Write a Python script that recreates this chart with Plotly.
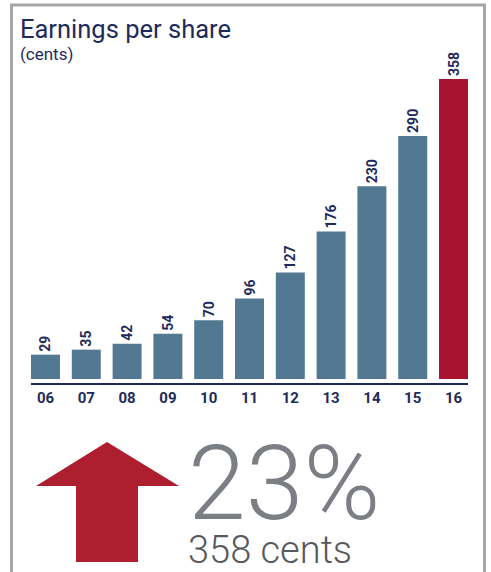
import plotly.graph_objects as go

years = ["06", "07", "08", "09", "10", "11", "12", "13", "14", "15", "16"]
eps = [29, 35, 42, 54, 70, 96, 127, 176, 230, 290, 358]
bar_colors = ["#527991"] * 10 + ["#a8132f"]
growth_text = "23%"
latest_text = "358 cents"

W, H = 491, 572
L, R, T, B = 31, 468, 44, 383  # plot area in pixels

def px(x):
    return (x - L) / (R - L)

def py(y):
    return (B - y) / (B - T)

NAVY = "#1e2b5a"
FONT = "Roboto"

fig = go.Figure()
fig.add_trace(go.Bar(
    x=list(range(len(years))), y=eps,
    marker=dict(color=bar_colors, line=dict(width=0)),
    text=[str(v) for v in eps], textposition="outside", textangle=-90,
    textfont=dict(family=FONT, size=14, color=NAVY, weight="bold"),
    cliponaxis=False, hoverinfo="skip",
))

frame = (f"M {px(11.5)} {py(574)} L {px(11.5)} {py(5)} "
         f"L {px(484.5)} {py(5)} L {px(484.5)} {py(574)}")
arrow = (f"M {px(107)} {py(442)} L {px(179)} {py(486)} L {px(138)} {py(486)} "
         f"L {px(138)} {py(562)} L {px(76)} {py(562)} L {px(76)} {py(486)} "
         f"L {px(36)} {py(486)} Z")

big = (f"<span style='font-size:104px;color:#7b7e83'>{growth_text}</span>"
       f"<br><span style='font-size:38px'>{latest_text}</span>")

fig.update_layout(
    width=W, height=H,
    margin=dict(l=L, r=W - R, t=T, b=H - B, pad=0),
    paper_bgcolor="white", plot_bgcolor="white",
    bargap=0.29, showlegend=False,
    xaxis=dict(range=[-0.355, 10.355], tickmode="array",
               tickvals=list(range(len(years))), ticktext=years,
               showgrid=False, zeroline=False, showline=True,
               linecolor=NAVY, linewidth=2, ticks="", ticklen=0,
               tickfont=dict(family=FONT, size=15, color=NAVY, weight="bold"),
               fixedrange=True),
    yaxis=dict(range=[-4.8, 399.7], visible=False, fixedrange=True),
    shapes=[
        dict(type="path", path=frame, xref="paper", yref="paper",
             line=dict(color="#a6a6a6", width=3), layer="above"),
        dict(type="path", path=arrow, xref="paper", yref="paper",
             fillcolor="#ad1f2e", line=dict(width=0)),
    ],
    annotations=[
        dict(text="Earnings per share", x=px(18), y=py(12), xref="paper", yref="paper",
             xanchor="left", yanchor="top", showarrow=False,
             font=dict(family=FONT, size=25.5, color=NAVY)),
        dict(text="(cents)", x=px(18), y=py(42), xref="paper", yref="paper",
             xanchor="left", yanchor="top", showarrow=False,
             font=dict(family=FONT, size=17, color=NAVY)),
        dict(text=big, x=px(186), y=py(421), xref="paper", yref="paper",
             xanchor="left", yanchor="top", align="left", showarrow=False,
             font=dict(family=FONT, size=33.5, color="#58595b", weight=300)),
    ],
)

fig.write_html("out.html", config={"displayModeBar": False},
               post_script="document.body.style.margin='0px';")
